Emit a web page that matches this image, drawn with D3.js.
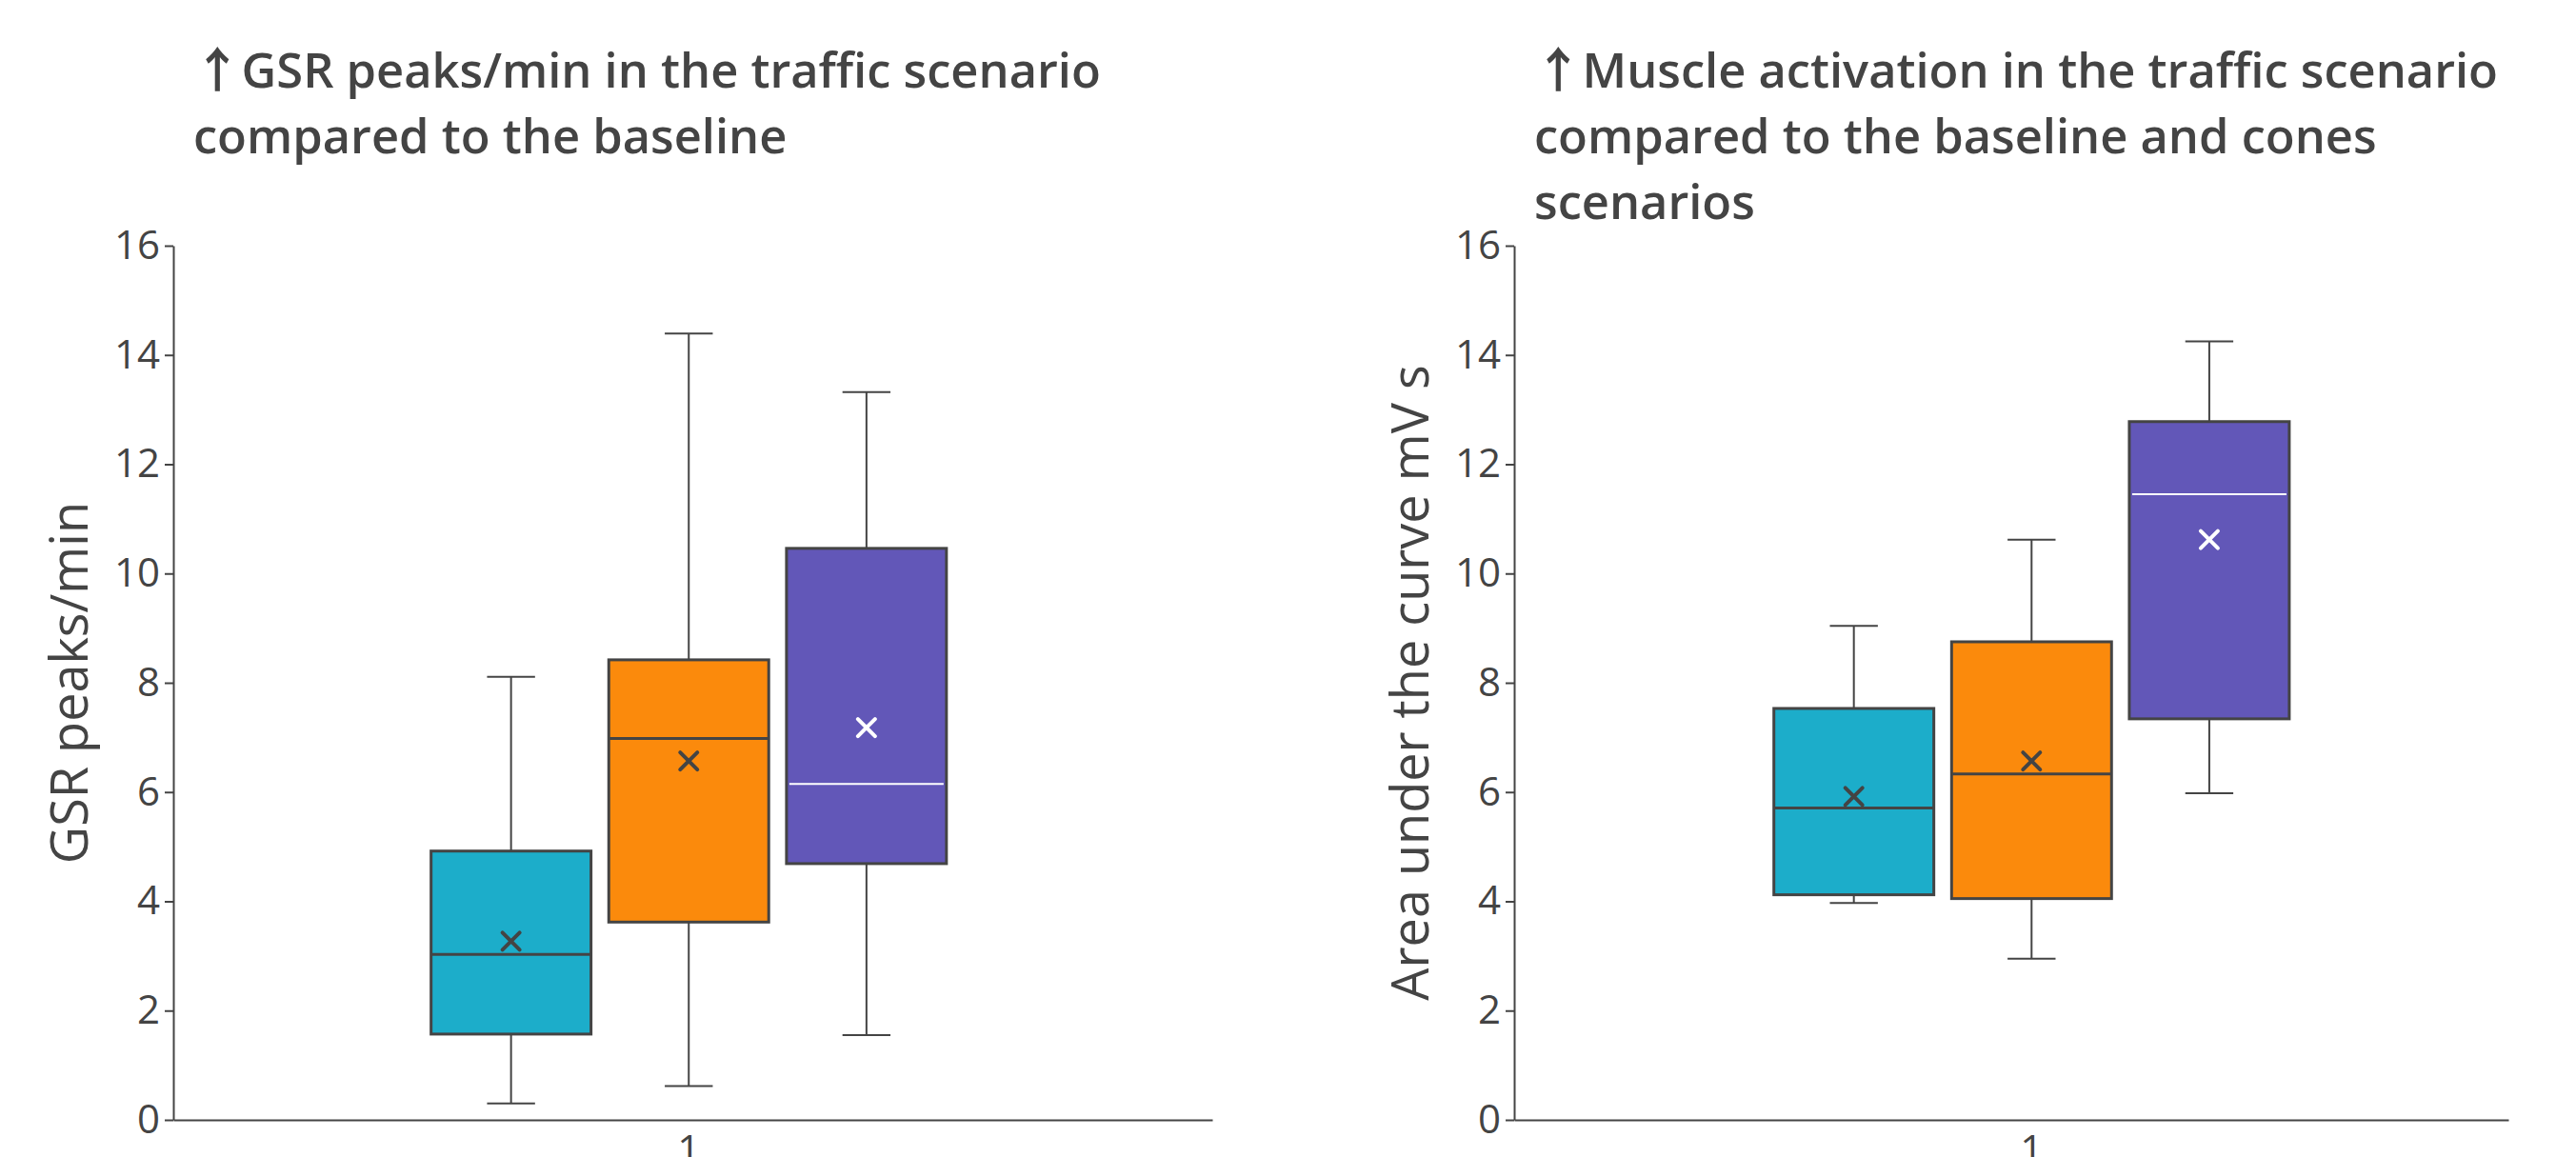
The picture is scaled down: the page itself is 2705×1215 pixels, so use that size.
<!DOCTYPE html>
<meta charset="utf-8">
<style>
body { margin: 0; background: #fff; }
svg { display: block; font-family: "Open Sans", sans-serif; }
.axis path, .axis line { stroke: #444; stroke-width: 2; }
.axis text { fill: #444; font-size: 42px; font-family: "Open Sans", sans-serif; }
.title { fill: #444; font-size: 50.6px; font-weight: 600; }
.arrow { font-family: "Noto Sans CJK SC", sans-serif; font-weight: 600; }
.ytitle { fill: #444; font-size: 54px; }
</style>
<body>
<script src="https://d3js.org/d3.v7.min.js"></script>
<script>

// data
var categories = ["1"];
var series = ["Baseline", "Cones", "Traffic"];
var yTicks = [0, 2, 4, 6, 8, 10, 12, 14, 16];

var gsrLower  = [0.30, 0.62, 1.55];
var gsrQ1     = [1.57, 3.62, 4.69];
var gsrMedian = [3.03, 6.98, 6.15];
var gsrQ3     = [4.92, 8.42, 10.46];
var gsrUpper  = [8.11, 14.39, 13.32];
var gsrMean   = [3.27, 6.57, 7.18];

var emgLower  = [3.97, 2.95, 5.98];
var emgQ1     = [4.12, 4.05, 7.34];
var emgMedian = [5.71, 6.33, 11.45];
var emgQ3     = [7.53, 8.75, 12.78];
var emgUpper  = [9.04, 10.62, 14.25];
var emgMean   = [5.92, 6.57, 10.62];

var gsrTitle = ["GSR peaks/min in the traffic scenario", "compared to the baseline"];
var emgTitle = ["Muscle activation in the traffic scenario", "compared to the baseline and cones", "scenarios"];
var gsrYLabel = "GSR peaks/min";
var emgYLabel = "Area under the curve mV s";

// styles
var fills = ["#1cadca", "#fb8a0c", "#6257b8"];
var markColors = ["#444", "#444", "#fff"];

var svg = d3.select("body").append("svg")
    .attr("width", 2705)
    .attr("height", 1215);

var y = d3.scaleLinear().domain([0, 16]).range([1176, 258]);

function drawChart(cfg, lower, q1, median, q3, upper, mean, title, ylabel) {
  var x0 = d3.scaleBand()
      .domain(categories)
      .range([cfg.left, cfg.right])
      .paddingInner(0)
      .paddingOuter(cfg.pad)
      .align(cfg.align);

  var x1 = d3.scaleBand()
      .domain(series)
      .range([0, x0.bandwidth()])
      .paddingInner(0.1)
      .paddingOuter(0.05);

  svg.append("g")
      .attr("class", "axis")
      .attr("transform", "translate(0," + y(0) + ")")
      .call(d3.axisBottom(x0).tickSize(0).tickPadding(16));

  svg.append("g")
      .attr("class", "axis")
      .attr("transform", "translate(" + cfg.left + ",0)")
      .call(d3.axisLeft(y).tickValues(yTicks).tickSize(9).tickSizeOuter(0).tickPadding(5));

  var t = svg.append("text")
      .attr("class", "title")
      .attr("x", cfg.titleX)
      .attr("y", 92);
  title.forEach(function(line, i) {
    var ts = t.append("tspan").attr("x", cfg.titleX).attr("dy", i ? 69 : 0);
    if (i == 0) {
      ts.append("tspan").attr("class", "arrow").text("\u2191");
      t.append("tspan").attr("dx", 0).text(line);
    } else {
      ts.text(line);
    }
  });

  svg.append("text")
      .attr("class", "ytitle")
      .attr("transform", "translate(" + (cfg.left - 90) + "," + y(8) + ") rotate(-90)")
      .style("text-anchor", "middle")
      .text(ylabel);

  var bw = x1.bandwidth();
  var boxes = svg.selectAll(null)
      .data(series)
      .enter().append("g")
      .attr("transform", function(d) { return "translate(" + (x0(categories[0]) + x1(d)) + ",0)"; });

  boxes.each(function(d, i) {
    var g = d3.select(this);
    var cx = bw / 2, cap = bw * 0.15;

    g.append("line").attr("x1", cx).attr("x2", cx)
        .attr("y1", y(upper[i])).attr("y2", y(q3[i]))
        .style("stroke", "#444").style("stroke-width", 2);
    g.append("line").attr("x1", cx).attr("x2", cx)
        .attr("y1", y(q1[i])).attr("y2", y(lower[i]))
        .style("stroke", "#444").style("stroke-width", 2);
    g.append("line").attr("x1", cx - cap).attr("x2", cx + cap)
        .attr("y1", y(upper[i])).attr("y2", y(upper[i]))
        .style("stroke", "#444").style("stroke-width", 2);
    g.append("line").attr("x1", cx - cap).attr("x2", cx + cap)
        .attr("y1", y(lower[i])).attr("y2", y(lower[i]))
        .style("stroke", "#444").style("stroke-width", 2);

    g.append("rect")
        .attr("x", 0).attr("width", bw)
        .attr("y", y(q3[i])).attr("height", y(q1[i]) - y(q3[i]))
        .style("fill", fills[i])
        .style("stroke", "#444").style("stroke-width", 3);

    var inset = markColors[i] == "#fff" ? 3 : 0;
    g.append("line").attr("x1", inset).attr("x2", bw - inset)
        .attr("y1", y(median[i])).attr("y2", y(median[i]))
        .style("stroke", markColors[i]).style("stroke-width", inset ? 2 : 3);

    g.append("path")
        .attr("transform", "translate(" + cx + "," + y(mean[i]) + ")")
        .attr("d", "M-9,-9L9,9M-9,9L9,-9")
        .style("stroke", markColors[i]).style("stroke-width", 4)
        .style("stroke-linecap", "round");
  });
}

drawChart({left: 182, right: 1273, pad: 0.4744, align: 0.492, titleX: 203},
    gsrLower, gsrQ1, gsrMedian, gsrQ3, gsrUpper, gsrMean, gsrTitle, gsrYLabel);

drawChart({left: 1590, right: 2634, pad: 0.4324, align: 0.544, titleX: 1611},
    emgLower, emgQ1, emgMedian, emgQ3, emgUpper, emgMean, emgTitle, emgYLabel);

</script>
</body>
